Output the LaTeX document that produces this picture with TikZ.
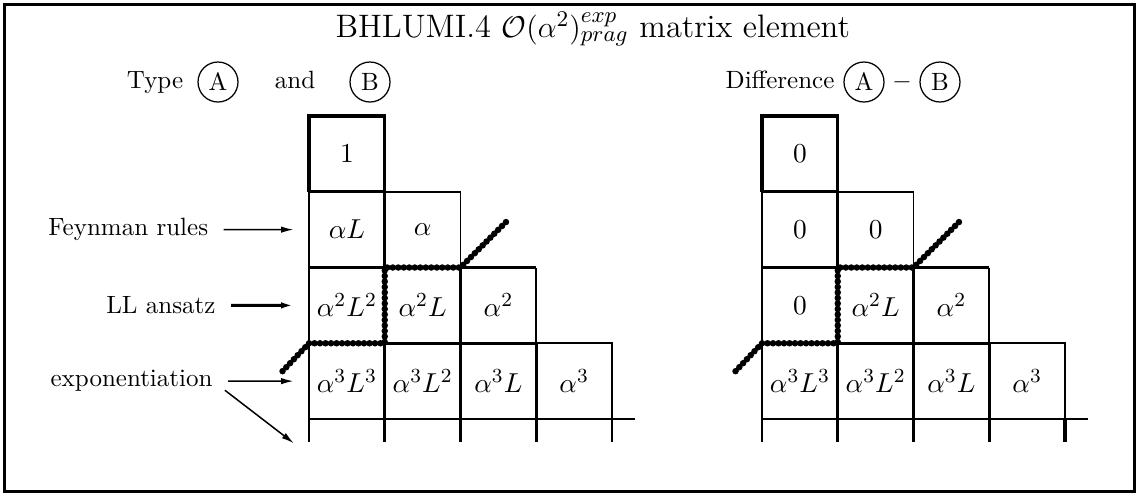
\documentclass[tikz,border=0pt]{standalone}
\usepackage{amsmath}
\usetikzlibrary{arrows.meta}

\tikzset{
  heavy/.style={line width=1.3pt},
  norm/.style={line width=0.9pt},
  light/.style={line width=0.7pt},
  beads/.style={line width=2.6pt, line cap=round, dash pattern=on 0pt off 2.2pt},
  cell/.style={minimum size=30.3pt, inner sep=0pt, font=\fontsize{11}{13}\selectfont},
  circ/.style={circle, draw, line width=0.5pt, minimum size=16pt, inner sep=0pt},
  lbl/.style={inner sep=0pt},
  arr/.style={-{Latex[length=5pt,width=2.6pt]}, line width=0.6pt, shorten <=6pt, shorten >=6pt},
}

% the staircase grid of one panel, #1 = style of the last stub
\newcommand{\ladder}[1]{%
  \draw[heavy] (0,1) -- (0,0) -- (1,0) -- (1,2);
  \draw[heavy] (0,1) -- (1,1);
  \draw[light] (1,1) -- (2,1) -- (2,2);
  \draw[norm] (0,1) -- (0,4.3);
  \draw[heavy] (0,2) -- (1,2);
  \draw[heavy] (2,2) -- (3,2);
  \draw[heavy] (2,2) -- (2,4.3);
  \draw[light] (3,2) -- (3,3);
  \draw[heavy] (1,3) -- (3,3);
  \draw[light] (3,3) -- (4,3) -- (4,4);
  \draw[#1] (4,4) -- (4,4.3);
  \draw[heavy] (1,3) -- (1,4.3);
  \draw[heavy] (3,3) -- (3,4.3);
  \draw[norm] (0,4) -- (4.3,4);
  \draw[beads] (2.6,1.4) -- (2,2) -- (1,2) -- (1,3) -- (0,3) -- (-0.37,3.39);
}

\begin{document}
\begin{tikzpicture}[x=0.4pt, y=-0.4pt]
  \useasboundingbox (0,0) rectangle (1138,495);
  \draw[line width=1.2pt] (4,4) rectangle (1134,491);

  % heading
  \node[lbl, anchor=base west, font=\fontsize{13}{15}\selectfont] (title) at (335,37)
    {BHLUMI.4 $\mathcal{O}(\alpha^2)^{exp}_{prag}$ matrix element};
  \node[lbl, anchor=base] (type) at (155,88) {Type};
  \node[circ] (ca) at (218,82) {A};
  \node[lbl, anchor=base] (and) at (295,88) {and};
  \node[circ] (cb) at (370,82) {B};
  \node[lbl, anchor=base] (diff) at (780,88) {Difference};
  \node[circ] (da) at (864,82) {A};
  \node[lbl] (minus) at (902,82) {$-$};
  \node[circ] (db) at (940,82) {B};

  % type A and B
  \begin{scope}[shift={(309,116)}, x=30.3pt, y=-30.3pt]
    \ladder{light}
    \node[cell] (a11) at (0.5,0.5) {$1$};
    \node[cell] (a21) at (0.5,1.5) {$\alpha L$};
    \node[cell] (a22) at (1.5,1.5) {$\alpha$};
    \node[cell] (a31) at (0.5,2.5) {$\alpha^2L^2$};
    \node[cell] (a32) at (1.5,2.5) {$\alpha^2L$};
    \node[cell] (a33) at (2.5,2.5) {$\alpha^2$};
    \node[cell] (a41) at (0.5,3.5) {$\alpha^3L^3$};
    \node[cell] (a42) at (1.5,3.5) {$\alpha^3L^2$};
    \node[cell] (a43) at (2.5,3.5) {$\alpha^3L$};
    \node[cell] (a44) at (3.5,3.5) {$\alpha^3$};
    \coordinate (aend) at (-0.2,4.32);
  \end{scope}

  % difference A - B
  \begin{scope}[shift={(762,116)}, x=30.3pt, y=-30.3pt]
    \ladder{heavy}
    \node[cell] (d11) at (0.5,0.5) {$0$};
    \node[cell] (d21) at (0.5,1.5) {$0$};
    \node[cell] (d22) at (1.5,1.5) {$0$};
    \node[cell] (d31) at (0.5,2.5) {$0$};
    \node[cell] (d32) at (1.5,2.5) {$\alpha^2L$};
    \node[cell] (d33) at (2.5,2.5) {$\alpha^2$};
    \node[cell] (d41) at (0.5,3.5) {$\alpha^3L^3$};
    \node[cell] (d42) at (1.5,3.5) {$\alpha^3L^2$};
    \node[cell] (d43) at (2.5,3.5) {$\alpha^3L$};
    \node[cell] (d44) at (3.5,3.5) {$\alpha^3$};
  \end{scope}

  % labels on the left
  \node[lbl, anchor=west] (feyn) at (48,229.6) {Feynman rules};
  \node[lbl, anchor=east] (llans) at (216,305.4) {LL ansatz};
  \node[lbl, anchor=east] (expo) at (213,381.1) {exponentiation};
  \draw[arr] (feyn) -- (a21);
  \draw[arr, line width=1.2pt] (llans) -- (a31);
  \draw[arr] (expo) -- (a41);
  \draw[arr, shorten >=0pt] (expo.east) -- (aend);
\end{tikzpicture}
\end{document}
